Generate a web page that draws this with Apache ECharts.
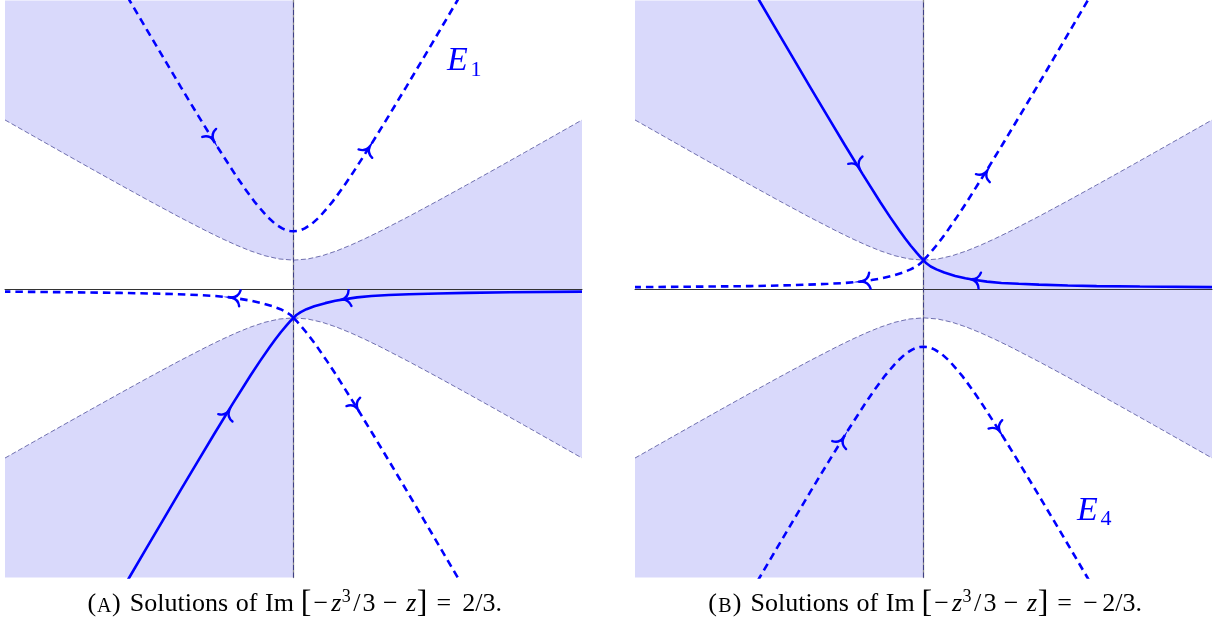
<!DOCTYPE html>
<html>
<head>
<meta charset="utf-8">
<title>Im[-z^3/3 - z] level curves</title>
<script src="https://cdn.jsdelivr.net/npm/echarts@6/dist/echarts.min.js"></script>
<style>
  html, body { margin: 0; padding: 0; background: #fff; }
  #chart { width: 1219px; height: 627px; }
</style>
</head>
<body>
<div id="chart"></div>
<script>
// curve Re[-z^3/3 - z] = 0 (besides x = 0)
var reZeroUpper = [[-10, 5.859], [-9, 5.292], [-8, 4.726], [-7, 4.163], [-6, 3.606], [-5, 3.055], [-4, 2.517], [-3, 2], [-2.5, 1.756], [-2, 1.528], [-1.5, 1.323], [-1, 1.155], [-0.5, 1.041], [0, 1],
  [0.5, 1.041], [1, 1.155], [1.5, 1.323], [2, 1.528], [2.5, 1.756], [3, 2], [4, 2.517], [5, 3.055], [6, 3.606], [7, 4.163], [8, 4.726], [9, 5.292], [10, 5.859]];
var reZeroLower = [[-10, -5.859], [-9, -5.292], [-8, -4.726], [-7, -4.163], [-6, -3.606], [-5, -3.055], [-4, -2.517], [-3, -2], [-2.5, -1.756], [-2, -1.528], [-1.5, -1.323], [-1, -1.155], [-0.5, -1.041], [0, -1],
  [0.5, -1.041], [1, -1.155], [1.5, -1.323], [2, -1.528], [2.5, -1.756], [3, -2], [4, -2.517], [5, -3.055], [6, -3.606], [7, -4.163], [8, -4.726], [9, -5.292], [10, -5.859]];
var reZeroAxis = [[0, -10], [0, 10]];

// panel A : Im = 2/3
var solidA = [[-5.985, -10.5], [-5.692, -10], [-5.106, -9], [-4.518, -8], [-3.928, -7], [-3.333, -6], [-2.733, -5], [-2.121, -4], [-1.491, -3], [-1.162, -2.5], [-0.817, -2], [-0.634, -1.75], [-0.441, -1.5], [-0.233, -1.25], [-0.097, -1.1], [0, -1],
  [0.1, -0.9], [0.25, -0.8], [0.45, -0.7], [0.72, -0.6], [1.1, -0.49], [1.45, -0.41], [1.8, -0.35], [2.2, -0.29], [2.7, -0.245], [3.3, -0.21], [4.0, -0.18], [5.0, -0.155], [6.0, -0.135], [7.5, -0.115], [10, -0.09]];
var dashLeftA = [[0, -1], [-0.1, -0.9], [-0.25, -0.8], [-0.45, -0.7], [-0.72, -0.6], [-1.1, -0.49], [-1.45, -0.41], [-1.8, -0.35], [-2.2, -0.29], [-2.7, -0.245], [-3.3, -0.21], [-4.0, -0.18], [-5.0, -0.155], [-6.0, -0.135], [-7.5, -0.115], [-10, -0.09]];
var dashDownA = [[0, -1], [0.097, -1.1], [0.233, -1.25], [0.441, -1.5], [0.634, -1.75], [0.817, -2], [1.162, -2.5], [1.491, -3], [2.121, -4], [2.733, -5], [3.333, -6], [3.928, -7], [4.518, -8], [5.106, -9], [5.692, -10], [5.985, -10.5]];
var dashTopA = [[-5.974, 10.5], [-5.680, 10], [-5.092, 9], [-4.5, 8], [-3.904, 7], [-3.300, 6], [-2.683, 5], [-2.041, 4], [-1.701, 3.5], [-1.333, 3], [-0.904, 2.5], [-0.626, 2.25], [-0.391, 2.1], [-0.275, 2.05], [-0.123, 2.01], [0, 2],
  [0.123, 2.01], [0.275, 2.05], [0.391, 2.1], [0.626, 2.25], [0.904, 2.5], [1.333, 3], [1.701, 3.5], [2.041, 4], [2.683, 5], [3.300, 6], [3.904, 7], [4.5, 8], [5.092, 9], [5.680, 10], [5.974, 10.5]];
// arrows: [x, y, x toward, y toward]
var solidArrowsA = [[-2.25, -4.25, -2.121, -4], [1.72, -0.36, 1.45, -0.41]];
var dashArrowsA = [[-2.1, -0.30, -2.7, -0.245], [2.2, -4.12, 2.733, -5], [-2.8, 5.2, -2.683, 5], [2.62, 4.9, 3.300, 6]];
var labelA = [5.32, 7.9], labelSubA = '1';

// panel B : Im = -2/3
var solidB = [[-5.985, 10.5], [-5.692, 10], [-5.106, 9], [-4.518, 8], [-3.928, 7], [-3.333, 6], [-2.733, 5], [-2.121, 4], [-1.491, 3], [-1.162, 2.5], [-0.817, 2], [-0.634, 1.75], [-0.441, 1.5], [-0.233, 1.25], [-0.097, 1.1], [0, 1],
  [0.1, 0.89], [0.25, 0.78], [0.45, 0.68], [0.72, 0.57], [1.1, 0.45], [1.45, 0.37], [1.8, 0.31], [2.2, 0.255], [2.7, 0.21], [3.3, 0.18], [4.0, 0.15], [5.0, 0.12], [6.0, 0.1], [7.5, 0.085], [10, 0.065]];
var dashLeftB = [[0, 1], [-0.1, 0.89], [-0.25, 0.78], [-0.45, 0.68], [-0.72, 0.57], [-1.1, 0.45], [-1.45, 0.37], [-1.8, 0.31], [-2.2, 0.255], [-2.7, 0.21], [-3.3, 0.18], [-4.0, 0.15], [-5.0, 0.12], [-6.0, 0.1], [-7.5, 0.085], [-10, 0.065]];
var dashUpB = [[0, 1], [0.097, 1.1], [0.233, 1.25], [0.441, 1.5], [0.634, 1.75], [0.817, 2], [1.162, 2.5], [1.491, 3], [2.121, 4], [2.733, 5], [3.333, 6], [3.928, 7], [4.518, 8], [5.106, 9], [5.692, 10], [5.985, 10.5]];
var dashBottomB = [[-5.974, -10.5], [-5.680, -10], [-5.092, -9], [-4.5, -8], [-3.904, -7], [-3.300, -6], [-2.683, -5], [-2.041, -4], [-1.701, -3.5], [-1.333, -3], [-0.904, -2.5], [-0.626, -2.25], [-0.391, -2.1], [-0.275, -2.05], [-0.123, -2.01], [0, -2],
  [0.123, -2.01], [0.275, -2.05], [0.391, -2.1], [0.626, -2.25], [0.904, -2.5], [1.333, -3], [1.701, -3.5], [2.041, -4], [2.683, -5], [3.300, -6], [3.904, -7], [4.5, -8], [5.092, -9], [5.680, -10], [5.974, -10.5]];
var solidArrowsB = [[-2.25, 4.25, -2.121, 4], [1.71, 0.33, 1.45, 0.37]];
var dashArrowsB = [[-2.1, 0.265, -2.7, 0.21], [2.18, 4.05, 2.733, 5], [-2.8, -5.2, -2.683, -5], [2.62, -4.9, 3.300, -6]];
var labelB = [5.32, -7.68], labelSubB = '4';

var blue = '#0000ff';
var shade = '#d9d9fb';
var edge = '#50509a';
var serif = '"Liberation Serif", "DejaVu Serif", serif';

// shaded regions (Re < 0) built from the boundary curve
var shadePolys = [
  [[-10, 10]].concat(reZeroUpper.slice(0, 14), [[0, 10]]),
  [[-10, -10]].concat(reZeroLower.slice(0, 14), [[0, -10]]),
  reZeroUpper.slice(13).concat(reZeroLower.slice(13).reverse())
];

function shadeSeries(idx) {
  return {
    type: 'custom', xAxisIndex: idx, yAxisIndex: idx, z: 1, silent: true,
    data: [0, 1, 2],
    renderItem: function (params, api) {
      var pts = shadePolys[params.dataIndex].map(function (p) { return api.coord(p); });
      return { type: 'polygon', shape: { points: pts }, style: { fill: shade } };
    }
  };
}

function edgeSeries(idx, data, w, color) {
  return {
    type: 'line', xAxisIndex: idx, yAxisIndex: idx, z: 4, silent: true,
    data: data, symbol: 'none',
    lineStyle: { color: color || edge, width: w || 0.8, type: [5, 2.5] }
  };
}

function curveSeries(idx, data, dashed) {
  return {
    type: 'line', xAxisIndex: idx, yAxisIndex: idx, z: 5, silent: true,
    data: data, symbol: 'none', clip: true,
    lineStyle: { color: blue, width: 2.6, type: dashed ? [7.5, 5] : 'solid', cap: 'butt' }
  };
}

function arrowSeries(idx, data) {
  return {
    type: 'custom', xAxisIndex: idx, yAxisIndex: idx, z: 6, silent: true,
    data: data,
    renderItem: function (params, api) {
      var p = api.coord([api.value(0), api.value(1)]);
      var q = api.coord([api.value(2), api.value(3)]);
      var ang = Math.atan2(q[1] - p[1], q[0] - p[0]);
      return {
        type: 'path', x: p[0], y: p[1], rotation: -ang,
        shape: { pathData: 'M-7,-8 Q-5.5,-1 1.5,0 Q-5.5,1 -7,8' },
        style: { fill: null, stroke: blue, lineWidth: 2.4, lineCap: 'round' }
      };
    }
  };
}

function labelSeries(idx, pos, sub) {
  return {
    type: 'custom', xAxisIndex: idx, yAxisIndex: idx, z: 6, silent: true,
    data: [pos],
    renderItem: function (params, api) {
      var p = api.coord([api.value(0), api.value(1)]);
      return {
        type: 'group', x: p[0], y: p[1],
        children: [
          { type: 'text', style: { text: 'E', x: 0, y: 0, fill: blue, font: 'italic 34px ' + serif, align: 'left', verticalAlign: 'middle' } },
          { type: 'text', style: { text: sub, x: 23.5, y: 9, fill: blue, font: '22px ' + serif, align: 'left', verticalAlign: 'middle' } }
        ]
      };
    }
  };
}

function axisPair(idx, color, w) {
  return {
    type: 'value', gridIndex: idx, min: -10, max: 10, z: 3,
    axisLine: { show: true, onZero: true, lineStyle: { color: color, width: w } },
    axisTick: { show: false }, axisLabel: { show: false }, splitLine: { show: false }
  };
}

// caption pieces: [text, slot centre x, kind]
var captionPieces = [
  ['(', 91.8, 'n'], ['A', 104.1, 'sc'], [')', 116.4, 'n'], ['Solutions', 178.9, 'n'], ['of', 246.5, 'n'], ['Im', 279.5, 'n'],
  ['[', 306, 'br'], ['\u2212', 320.8, 'n'], ['z', 336.2, 'it'], ['3', 346.3, 'sup'], ['/', 356.8, 'n'], ['3', 369.1, 'n'],
  ['\u2212', 390.4, 'n'], ['z', 411.2, 'it'], [']', 422.2, 'br'], ['=', 443.8, 'n']
];
var captionTailA = [['2/3.', 482.2, 'n']];
var captionTailB = [['\u2212', 469.9, 'n'], ['2/3.', 501.4, 'n']];

var pieceFont = {
  n: { font: '26px ' + serif, y: 604.4 },
  sc: { font: '20px ' + serif, y: 606.4 },
  it: { font: 'italic 26px ' + serif, y: 604.4 },
  sup: { font: '18px ' + serif, y: 597 },
  br: { font: '32px ' + serif, y: 603.8 }
};

function captionGraphics(pieces, dx, letter) {
  return pieces.map(function (pc) {
    var f = pieceFont[pc[2]];
    var txt = pc[0] === 'A' && letter ? letter : pc[0];
    return {
      type: 'text', x: pc[1] + dx, y: f.y, silent: true,
      style: { text: txt, font: f.font, fill: '#000', align: 'center', verticalAlign: 'middle', textAlign: 'center', textVerticalAlign: 'middle' }
    };
  });
}

var chart = echarts.init(document.getElementById('chart'), null, { renderer: 'canvas' });
chart.setOption({
  animation: false,
  backgroundColor: '#fff',
  grid: [
    { left: 5, top: 0.5, width: 577, height: 577, outerBoundsMode: 'none' },
    { left: 635, top: 0.5, width: 577, height: 577, outerBoundsMode: 'none' }
  ],
  xAxis: [axisPair(0, '#333', 1), axisPair(1, '#333', 1)],
  yAxis: [axisPair(0, '#8c8c8c', 1.3), axisPair(1, '#8c8c8c', 1.3)],
  graphic: captionGraphics(captionPieces.concat(captionTailA), 0, 'A')
    .concat(captionGraphics(captionPieces.concat(captionTailB), 620.8, 'B')),
  series: [
    shadeSeries(0),
    edgeSeries(0, reZeroUpper), edgeSeries(0, reZeroLower), edgeSeries(0, reZeroAxis, 1, '#3f3f85'),
    curveSeries(0, solidA, false), curveSeries(0, dashLeftA, true), curveSeries(0, dashDownA, true), curveSeries(0, dashTopA, true),
    arrowSeries(0, solidArrowsA), arrowSeries(0, dashArrowsA),
    labelSeries(0, labelA, labelSubA),

    shadeSeries(1),
    edgeSeries(1, reZeroUpper), edgeSeries(1, reZeroLower), edgeSeries(1, reZeroAxis, 1, '#3f3f85'),
    curveSeries(1, solidB, false), curveSeries(1, dashLeftB, true), curveSeries(1, dashUpB, true), curveSeries(1, dashBottomB, true),
    arrowSeries(1, solidArrowsB), arrowSeries(1, dashArrowsB),
    labelSeries(1, labelB, labelSubB)
  ]
});
</script>
</body>
</html>
